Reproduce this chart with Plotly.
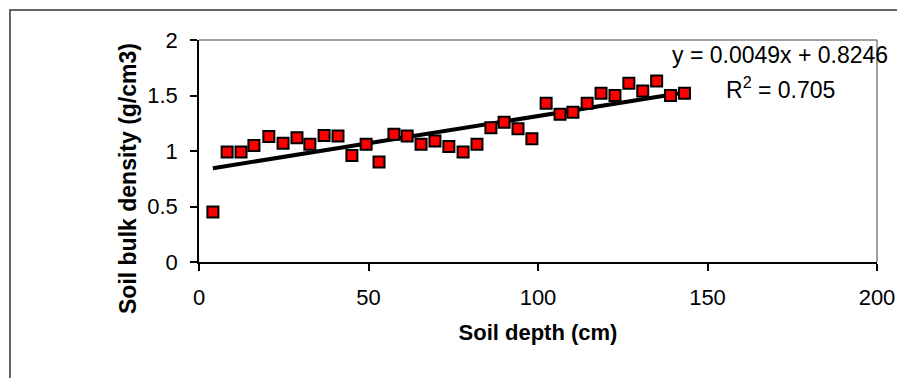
import plotly.graph_objects as go

# Data
depth_cm = [4.1, 8.3, 12.4, 16.2, 20.6, 24.8, 28.9, 32.7, 36.9, 41.0, 45.1, 49.3,
            53.1, 57.5, 61.4, 65.5, 69.6, 73.7, 77.9, 82.0, 86.1, 90.0, 94.1, 98.2,
            102.4, 106.5, 110.3, 114.5, 118.6, 122.7, 126.8, 130.9, 135.0, 139.1, 143.2]
bulk_density = [0.45, 0.99, 0.99, 1.05, 1.13, 1.07, 1.12, 1.06, 1.14, 1.135, 0.96, 1.06,
                0.90, 1.15, 1.135, 1.06, 1.09, 1.04, 0.99, 1.06, 1.21, 1.26, 1.20, 1.11,
                1.43, 1.33, 1.35, 1.43, 1.52, 1.50, 1.61, 1.54, 1.63, 1.50, 1.52]
trend_slope = 0.0049
trend_intercept = 0.8246
r_squared = 0.705
x_ticks = [0, 50, 100, 150, 200]
y_ticks = [0, 0.5, 1, 1.5, 2]

FONT = "Liberation Sans, Arial, sans-serif"

trend_x = [min(depth_cm), max(depth_cm)]
trend_y = [trend_slope * v + trend_intercept for v in trend_x]

fig = go.Figure()
fig.add_trace(go.Scatter(
    x=trend_x, y=trend_y, mode="lines",
    line=dict(color="black", width=4), showlegend=False, hoverinfo="skip"))
fig.add_trace(go.Scatter(
    x=depth_cm, y=bulk_density, mode="markers",
    marker=dict(symbol="square", size=11, color="#FF0000",
                line=dict(color="black", width=2)),
    showlegend=False))

fig.add_annotation(x=171.5, y=1.865, xref="x", yref="y", showarrow=False,
                   xanchor="center", yanchor="middle",
                   text=f"y = {trend_slope}x + {trend_intercept}",
                   font=dict(family=FONT, size=23, color="black"))
fig.add_annotation(x=171.5, y=1.57, xref="x", yref="y", showarrow=False,
                   xanchor="center", yanchor="middle",
                   text=f"R<sup>2</sup> = {r_squared}",
                   font=dict(family=FONT, size=23, color="black"))

# y-axis title (placed as in the reference, centred lower than the plot area)
fig.add_annotation(x=-0.1047, y=0.374, xref="paper", yref="paper", showarrow=False,
                   xanchor="center", yanchor="middle",
                   text="<b>Soil bulk density (g/cm3)</b>", textangle=-90,
                   font=dict(family=FONT, size=23, color="black"))

# plot-area top/right grey border and outer chart border
fig.add_shape(type="line", xref="paper", yref="paper", x0=0, x1=1, y0=1, y1=1,
              line=dict(color="#808080", width=1.5))
fig.add_shape(type="line", xref="paper", yref="paper", x0=1, x1=1, y0=0, y1=1,
              line=dict(color="#808080", width=1.5))
fig.add_shape(type="rect", xref="paper", yref="paper",
              x0=-0.2788, x1=1.2, y0=-0.8, y1=1.1351,
              line=dict(color="#333333", width=1.5))

fig.update_xaxes(
    range=[0, 200], tickvals=x_ticks, ticktext=[str(v) for v in x_ticks],
    showgrid=False, zeroline=False, showline=True, linecolor="black", linewidth=1.5,
    ticks="outside", ticklen=7, tickcolor="black", tickwidth=1.5,
    ticklabelstandoff=8,
    tickfont=dict(family=FONT, size=22, color="black"),
    title=dict(text="<b>Soil depth (cm)</b>", standoff=15,
               font=dict(family=FONT, size=22, color="black")))
fig.update_yaxes(
    range=[0, 2], tickvals=y_ticks, ticktext=["0", "0.5", "1", "1.5", "2"],
    showgrid=False, zeroline=False, showline=True, linecolor="black", linewidth=1.5,
    ticks="outside", ticklen=7, tickcolor="black", tickwidth=1.5,
    ticklabelstandoff=8,
    tickfont=dict(family=FONT, size=22, color="black"))

fig.update_layout(
    width=897, height=378,
    margin=dict(l=199, r=20, t=40, b=116, autoexpand=False),
    paper_bgcolor="white", plot_bgcolor="white",
)

fig.write_html("out.html")
